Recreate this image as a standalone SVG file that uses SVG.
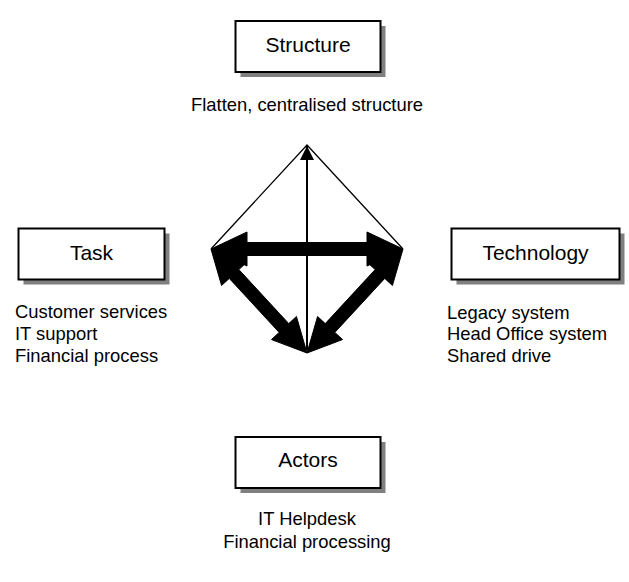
<svg xmlns="http://www.w3.org/2000/svg" width="629" height="582" viewBox="0 0 629 582">
<style>
.shadow{fill:#808080;stroke:none}
.box{fill:#ffffff;stroke:#000000;stroke-width:2}
.lbl{font-family:"Liberation Sans",Arial,sans-serif;font-size:21px;fill:#000;text-anchor:middle}
.desc{font-family:"Liberation Sans",Arial,sans-serif;font-size:18.4px;fill:#000}
.thin{fill:none;stroke:#000;stroke-width:1.3}
.thick{fill:#000;stroke:#000;stroke-width:1;stroke-linejoin:miter}
</style>
<defs>
<marker id="ah" viewBox="0 0 10 10" refX="10" refY="5" markerWidth="8.5" markerHeight="7" markerUnits="strokeWidth" orient="auto">
<path d="M0,0 L10,5 L0,10 z" fill="#000"/>
</marker>
</defs>
<rect width="629" height="582" fill="#ffffff"/>
<g id="structure">
<rect class="shadow" x="240.5" y="26" width="145" height="51"/>
<rect class="box" x="235.5" y="21" width="145" height="51"/>
<text class="lbl" x="308" y="52">Structure</text>
<text class="desc" x="307" y="111" text-anchor="middle">Flatten, centralised structure</text>
</g>
<g id="task">
<rect class="shadow" x="23.5" y="233.5" width="146" height="51"/>
<rect class="box" x="18.5" y="228.5" width="146" height="51"/>
<text class="lbl" x="91.5" y="260">Task</text>
<text class="desc" x="15" y="318">Customer services</text>
<text class="desc" x="15" y="340">IT support</text>
<text class="desc" x="15" y="362">Financial process</text>
</g>
<g id="technology">
<rect class="shadow" x="456.5" y="233.5" width="168" height="51"/>
<rect class="box" x="451.5" y="228.5" width="168" height="51"/>
<text class="lbl" x="535.5" y="260">Technology</text>
<text class="desc" x="447" y="319">Legacy system</text>
<text class="desc" x="447" y="340">Head Office system</text>
<text class="desc" x="447" y="362">Shared drive</text>
</g>
<g id="actors">
<rect class="shadow" x="240.5" y="442" width="145" height="51"/>
<rect class="box" x="235.5" y="437" width="145" height="51"/>
<text class="lbl" x="308" y="467">Actors</text>
<text class="desc" x="307" y="525" text-anchor="middle">IT Helpdesk</text>
<text class="desc" x="307" y="548" text-anchor="middle">Financial processing</text>
</g>
<g id="connectors">
<path class="thin" d="M211,249 L307,145 L403,249"/>
<line x1="307" y1="350" x2="307" y2="146" stroke="#000" stroke-width="2" marker-end="url(#ah)"/>
<polygon class="thick" points="211,249 247,266 247,255.5 367,255.5 367,266 403,249 367,232 367,242.5 247,242.5 247,232"/>
<polygon class="thick" points="211,249 221.57,285.51 229.28,278.39 279.16,332.43 271.45,339.55 307,353 296.43,316.49 288.72,323.61 238.84,269.57 246.55,262.45"/>
<polygon class="thick" points="403,249 392.43,285.51 384.72,278.39 334.84,332.43 342.55,339.55 307,353 317.57,316.49 325.28,323.61 375.16,269.57 367.45,262.45"/>
</g>
</svg>
